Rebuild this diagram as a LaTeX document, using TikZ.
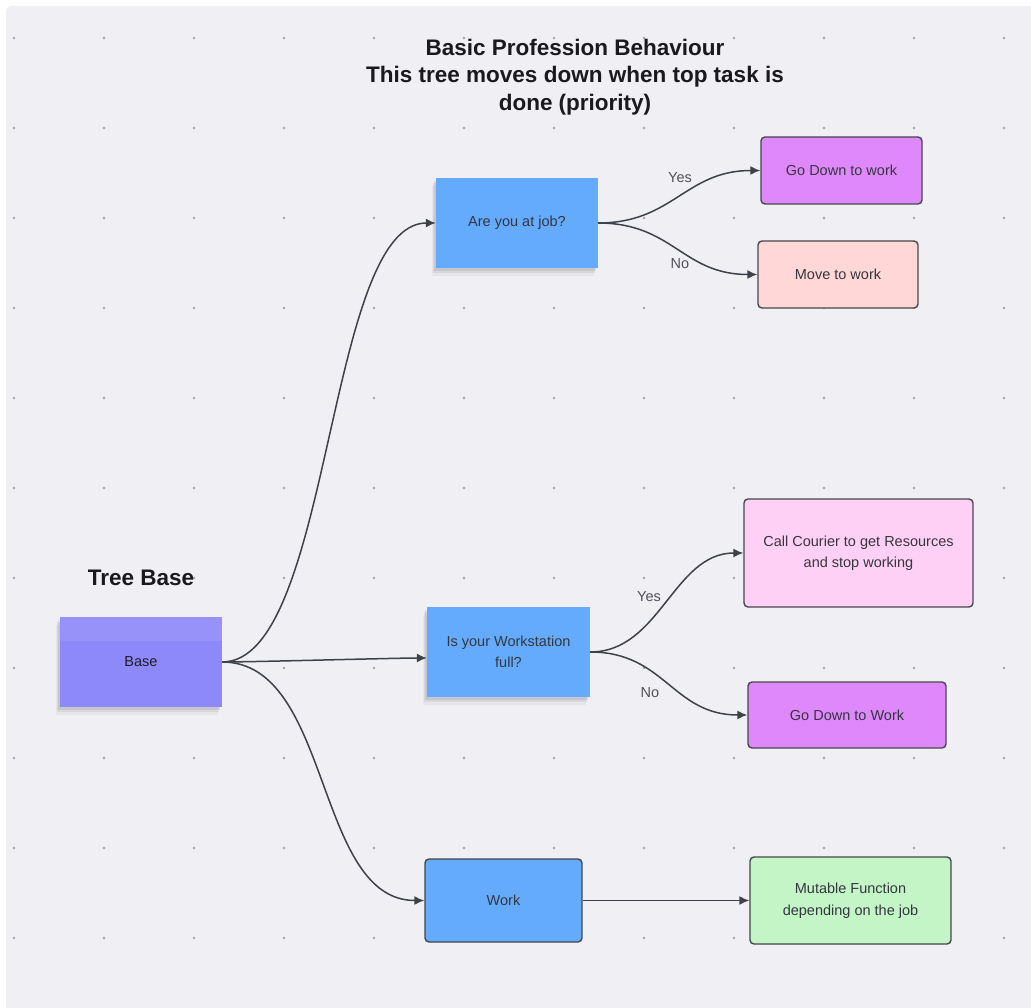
\documentclass[tikz,border=0pt]{standalone}
\usepackage{fontspec}
\setmainfont{Liberation Sans}
\usetikzlibrary{arrows.meta,shadows}
\definecolor{panel}{HTML}{F0EFF4}
\definecolor{dotc}{HTML}{A2A2A8}
\definecolor{basec}{HTML}{8E89FA}
\definecolor{basetop}{HTML}{9792FA}
\definecolor{stickyblue}{HTML}{65ABFD}
\definecolor{purplec}{HTML}{DE88FB}
\definecolor{pinkc}{HTML}{FFD7D7}
\definecolor{lightpink}{HTML}{FFD0F5}
\definecolor{greenc}{HTML}{C3F5C7}
\definecolor{edgec}{HTML}{3D4149}
\definecolor{bordc}{HTML}{45474D}
\definecolor{txtc}{HTML}{34373E}
\definecolor{lblc}{HTML}{505257}
\definecolor{titlec}{HTML}{1A1A1C}
\tikzset{
  bodyfont/.style={font=\fontsize{14.5}{21.5}\selectfont, text=txtc, align=center},
  sticky/.style={bodyfont, inner sep=0pt, draw=none,
    general shadow={fill=black, opacity=0.04, shadow xshift=-4pt, shadow yshift=-8pt},
    general shadow={fill=black, opacity=0.06, shadow xshift=-3pt, shadow yshift=-5pt},
    general shadow={fill=black, opacity=0.08, shadow xshift=-2pt, shadow yshift=-3pt}},
  card/.style={bodyfont, inner sep=0pt, draw=bordc, line width=1.4pt, rounded corners=4pt},
  conn/.style={draw=edgec, line width=1.5pt, -{Latex[length=10pt,width=9pt]}},
  lbl/.style={font=\fontsize{14.5}{17}\selectfont, text=lblc},
  heading/.style={font=\fontsize{22.5}{27.5}\selectfont\bfseries, text=titlec, align=center}
}
\begin{document}
\begin{tikzpicture}[x=1pt,y=-1pt]
\useasboundingbox (0,0) rectangle (1031,1008);
\fill[white] (0,0) rectangle (1031,1008);
\fill[panel, rounded corners=6pt] (6,6) rectangle (1040,1020);
\foreach \i in {0,...,11} {
  \foreach \j in {0,...,10} {
    \fill[dotc] (14+90*\i, 38+90*\j) circle (1.3pt);
  }
}
% title
\node[heading] (title) at (575,77) {Basic Profession Behaviour\\This tree moves down when top task is\\done (priority)};
\node[heading] (treebase) at (141,578) {Tree Base};
% sticky notes
\node[sticky, fill=basec, minimum width=162pt, minimum height=90pt] (base) at (141,662) {};
\fill[basetop] (base.north west) rectangle ([yshift=-24pt]base.north east);
\node[bodyfont, text=txtc!80!basec!40!black] (basetext) at (base.center) {Base};
\node[sticky, fill=stickyblue, minimum width=162pt, minimum height=90pt] (areyou) at (517,223) {Are you at job?};
\node[sticky, fill=stickyblue, minimum width=163pt, minimum height=90pt] (workst) at (508.5,652) {Is your Workstation\\full?};
% cards
\node[card, fill=stickyblue, minimum width=157pt, minimum height=83pt] (work) at (503.5,900.5) {Work};
\node[card, fill=purplec, minimum width=161pt, minimum height=67pt] (godown1) at (841.5,170.5) {Go Down to work};
\node[card, fill=pinkc, minimum width=160pt, minimum height=67pt] (move) at (838,274.5) {Move to work};
\node[card, fill=lightpink, minimum width=229pt, minimum height=108pt] (call) at (858.5,553) {Call Courier to get Resources\\and stop working};
\node[card, fill=purplec, minimum width=198pt, minimum height=66pt] (godown2) at (847,715) {Go Down to Work};
\node[card, fill=greenc, minimum width=201pt, minimum height=87pt] (mutable) at (850.5,900.5) {Mutable Function\\depending on the job};
% connectors
\draw[conn] (base.east) .. controls +(110,0) and +(-110,0) .. (areyou.west);
\draw[conn] (base.east) .. controls +(30,0) and +(-30,0) .. ([yshift=-6pt]workst.west);
\draw[conn] (base.east) .. controls +(110,0) and +(-110,0) .. (work.west);
\draw[conn] (areyou.east) .. controls +(75,0) and +(-75,0) .. (godown1.west);
\draw[conn] (areyou.east) .. controls +(75,0) and +(-75,0) .. (move.west);
\draw[conn] (workst.east) .. controls +(70,0) and +(-70,0) .. (call.west);
\draw[conn] (workst.east) .. controls +(75,0) and +(-75,0) .. (godown2.west);
\draw[conn] (work.east) -- (mutable.west);
% labels
\node[lbl] (yes1) at (680,178) {Yes};
\node[lbl] (no1) at (680,264) {No};
\node[lbl] (yes2) at (649,597) {Yes};
\node[lbl] (no2) at (650,693) {No};
\end{tikzpicture}
\end{document}
